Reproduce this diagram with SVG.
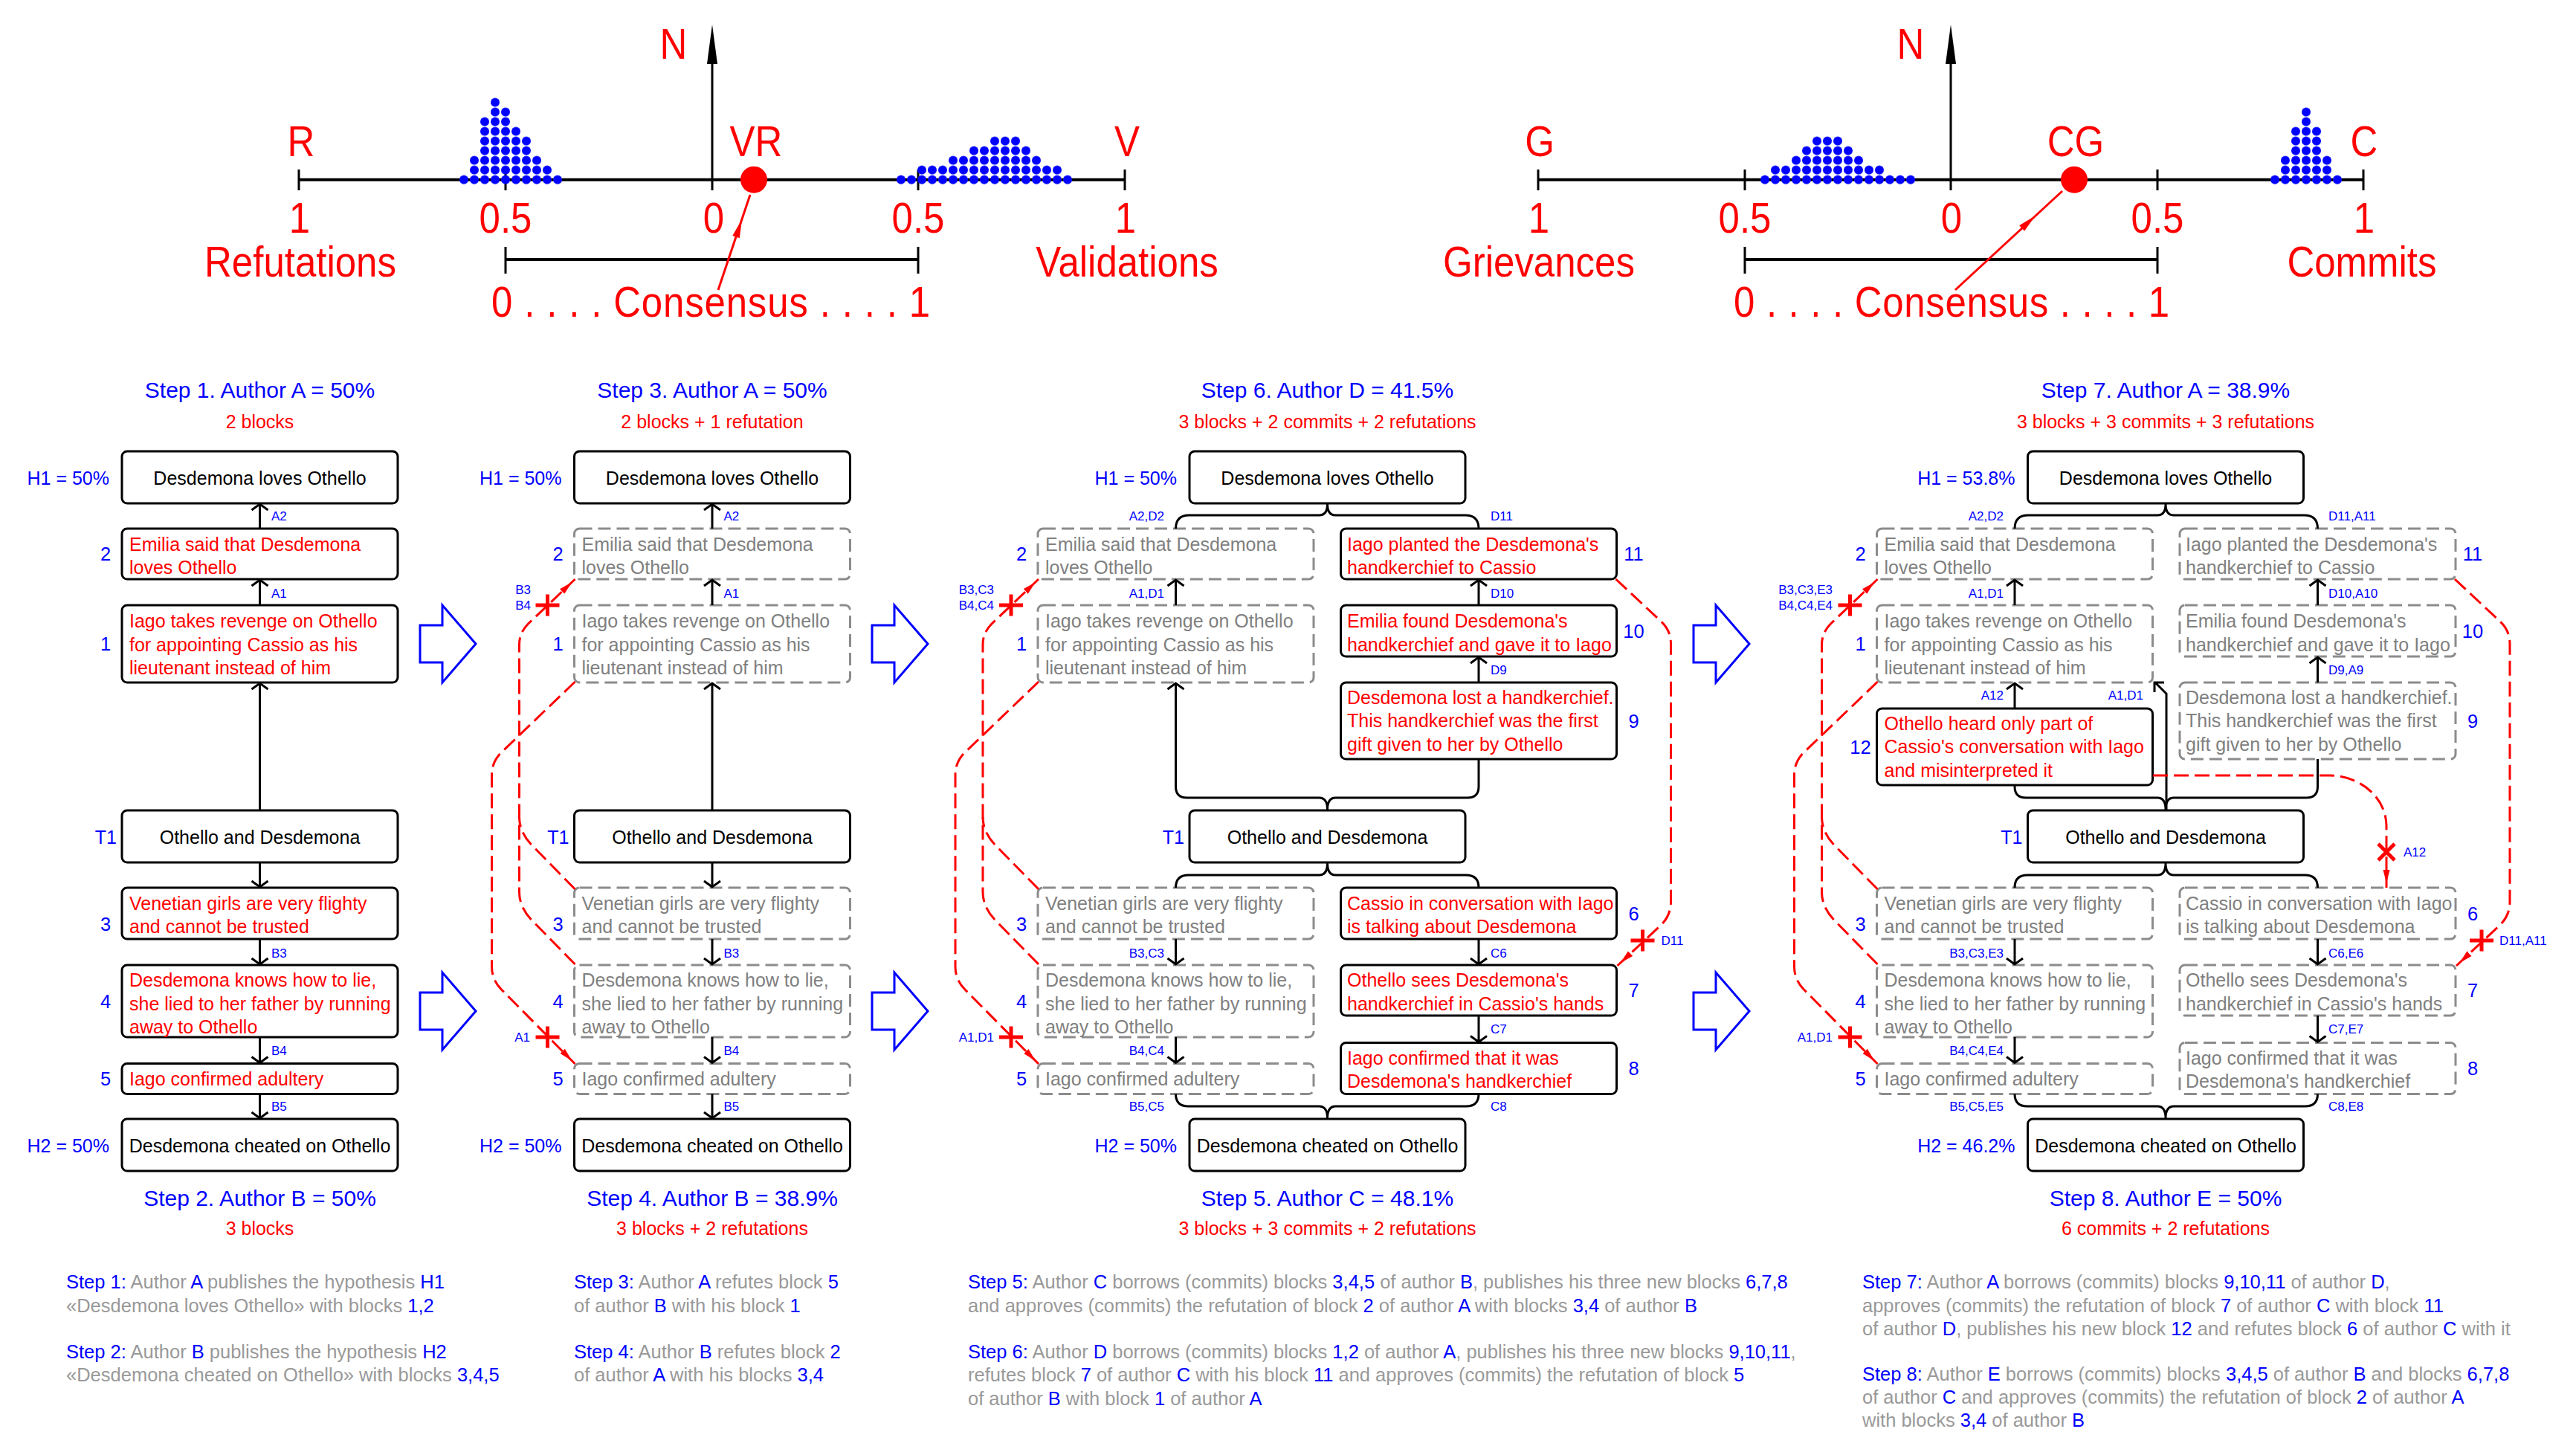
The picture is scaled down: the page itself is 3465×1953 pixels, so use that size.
<svg xmlns="http://www.w3.org/2000/svg" width="3465" height="1953" viewBox="0 0 3465 1953">
<defs>
<style>
text{font-family:"Liberation Sans",Arial,Helvetica,sans-serif}
.big{font-size:51px;fill:#f00;text-anchor:middle;transform-box:fill-box;transform-origin:50% 100%;transform:scaleY(1.12)}
.ax{stroke:#000;stroke-width:4;fill:none}
.tk{stroke:#000;stroke-width:3;fill:none}
.ra{stroke:#f00;stroke-width:3;fill:none}
.bx{fill:#fff;stroke:#000;stroke-width:3}
.gb{fill:#fff;stroke:#8c8c8c;stroke-width:3;stroke-dasharray:17 8}
.tr{font-size:25px;fill:#f00}
.tg{font-size:25px;fill:#808080}
.tb{font-size:25px;fill:#000;text-anchor:middle}
.lm{font-size:25.5px;fill:#00f;text-anchor:middle}
.le{font-size:25px;fill:#00f;text-anchor:end}
.sm{font-size:17px;fill:#00f}
.se{font-size:17px;fill:#00f;text-anchor:end}
.ttl{font-size:30px;fill:#00f;text-anchor:middle}
.sub{font-size:25px;fill:#f00;text-anchor:middle}
.cn{fill:none;stroke:#000;stroke-width:3}
.rf{fill:none;stroke:#f00;stroke-width:3;stroke-dasharray:20 8}
.rx{fill:none;stroke:#f00;stroke-width:5}
.ba{fill:#fff;stroke:#00f;stroke-width:3}
.desc{font-size:25.5px;fill:#999}
.b{fill:#00f}
.dt{fill:url(#dots)}
</style>
<pattern id="dots" patternUnits="userSpaceOnUse" x="1" y="1.2" width="14" height="13"><circle cx="7" cy="6.5" r="6" fill="#00f"/></pattern>
<marker id="rh" markerUnits="userSpaceOnUse" markerWidth="30" markerHeight="12" viewBox="0 0 30 12" refX="24" refY="6" orient="auto"><path d="M0,1.5L18,6L0,10.5z" fill="#f00"/></marker>
</defs>
<rect width="3465" height="1953" fill="#fff"/>

<g id="scale-left">
<path class="ax" d="M402,241.7H1513"/>
<path class="tk" d="M402,228V256M680,228V256M958,228V256M1235,228V256M1513,228V256M958,256V84"/>
<path d="M958,33L965,86L951,86z" fill="#000"/>
<rect class="dt" x="617" y="235.2" width="140" height="13"/>
<rect class="dt" x="631" y="222.2" width="112" height="13"/>
<rect class="dt" x="631" y="209.2" width="98" height="13"/>
<rect class="dt" x="645" y="196.2" width="70" height="13"/>
<rect class="dt" x="645" y="183.2" width="70" height="13"/>
<rect class="dt" x="645" y="170.2" width="56" height="13"/>
<rect class="dt" x="645" y="157.2" width="42" height="13"/>
<rect class="dt" x="659" y="144.2" width="28" height="13"/>
<rect class="dt" x="659" y="131.2" width="14" height="13"/>
<rect class="dt" x="1205" y="235.2" width="238" height="13"/>
<rect class="dt" x="1233" y="222.2" width="196" height="13"/>
<rect class="dt" x="1275" y="209.2" width="126" height="13"/>
<rect class="dt" x="1303" y="196.2" width="84" height="13"/>
<rect class="dt" x="1331" y="183.2" width="42" height="13"/>
<circle cx="1014" cy="241.7" r="18" fill="#f00"/>
<text class="big" x="405" y="211">R</text>
<text class="big" x="1017" y="211">VR</text>
<text class="big" x="1516" y="211">V</text>
<text class="big" x="906" y="80">N</text>
<text class="big" x="403" y="314">1</text>
<text class="big" x="680" y="314">0.5</text>
<text class="big" x="960" y="314">0</text>
<text class="big" x="1235" y="314">0.5</text>
<text class="big" x="1514" y="314">1</text>
<text class="big" x="404" y="373">Refutations</text>
<text class="big" x="1516" y="373">Validations</text>
<path class="ax" d="M680,349H1235"/>
<path class="tk" d="M680,332V368M1235,332V368"/>
<text class="big" x="956" y="427" textLength="590" lengthAdjust="spacing">0 . . . . Consensus . . . . 1</text>
<path class="ra" d="M966,390L1009,262"/>
<path d="M998,295L994.8,320.3L985.3,317.1z" fill="#f00"/>
</g>

<g id="scale-right">
<path class="ax" d="M2069,241.7H3179"/>
<path class="tk" d="M2069,228V256M2347,228V256M2624,228V256M2902,228V256M3179,228V256M2624,256V84"/>
<path d="M2624,33L2631,86L2617,86z" fill="#000"/>
<rect class="dt" x="2367" y="235.2" width="210" height="13"/>
<rect class="dt" x="2381" y="222.2" width="154" height="13"/>
<rect class="dt" x="2409" y="209.2" width="98" height="13"/>
<rect class="dt" x="2423" y="196.2" width="70" height="13"/>
<rect class="dt" x="2437" y="183.2" width="42" height="13"/>
<rect class="dt" x="3053" y="235.2" width="98" height="13"/>
<rect class="dt" x="3067" y="222.2" width="70" height="13"/>
<rect class="dt" x="3067" y="209.2" width="70" height="13"/>
<rect class="dt" x="3081" y="196.2" width="42" height="13"/>
<rect class="dt" x="3081" y="183.2" width="42" height="13"/>
<rect class="dt" x="3081" y="170.2" width="42" height="13"/>
<rect class="dt" x="3095" y="157.2" width="14" height="13"/>
<rect class="dt" x="3095" y="144.2" width="14" height="13"/>
<circle cx="2790" cy="241.7" r="18" fill="#f00"/>
<text class="big" x="2071" y="211">G</text>
<text class="big" x="2792" y="211">CG</text>
<text class="big" x="3180" y="211">C</text>
<text class="big" x="2570" y="80">N</text>
<text class="big" x="2070" y="314">1</text>
<text class="big" x="2347" y="314">0.5</text>
<text class="big" x="2625" y="314">0</text>
<text class="big" x="2902" y="314">0.5</text>
<text class="big" x="3180" y="314">1</text>
<text class="big" x="2070" y="373">Grievances</text>
<text class="big" x="3177" y="373">Commits</text>
<path class="ax" d="M2347,349H2902"/>
<path class="tk" d="M2347,332V368M2902,332V368"/>
<text class="big" x="2625" y="427" textLength="586" lengthAdjust="spacing">0 . . . . Consensus . . . . 1</text>
<path class="ra" d="M2630,390L2774,257"/>
<path d="M2738,290L2723,310.7L2716.2,303.3z" fill="#f00"/>
</g>

<g id="transitions">
<path class="ba" d="M565,841H595V814L640,866L595,918V891H565Z"/>
<path class="ba" d="M565,1335H595V1308L640,1360L595,1412V1385H565Z"/>
<path class="ba" d="M1173,841H1203V814L1248,866L1203,918V891H1173Z"/>
<path class="ba" d="M1173,1335H1203V1308L1248,1360L1203,1412V1385H1173Z"/>
<path class="ba" d="M2278,841H2308V814L2353,866L2308,918V891H2278Z"/>
<path class="ba" d="M2278,1335H2308V1308L2353,1360L2308,1412V1385H2278Z"/>
</g>

<!-- PANEL 1 -->
<g id="panel1">
<text class="ttl" x="349.5" y="535">Step 1. Author A = 50%</text>
<text class="sub" x="349.5" y="576">2 blocks</text>
<text class="ttl" x="349.5" y="1622">Step 2. Author B = 50%</text>
<text class="sub" x="349.5" y="1661">3 blocks</text>
<g id="p1-connectors">
<path class="cn" d="M349.5,711V678M338.5,686L349.5,678L360.5,686"/>
<path class="cn" d="M349.5,814V780M338.5,788L349.5,780L360.5,788"/>
<path class="cn" d="M349.5,1090V919M338.5,927L349.5,919L360.5,927"/>
<path class="cn" d="M349.5,1160V1193M338.5,1185L349.5,1193L360.5,1185"/>
<path class="cn" d="M349.5,1263V1297M338.5,1289L349.5,1297L360.5,1289"/>
<path class="cn" d="M349.5,1395V1429.5M338.5,1421.5L349.5,1429.5L360.5,1421.5"/>
<path class="cn" d="M349.5,1471.5V1504M338.5,1496L349.5,1504L360.5,1496"/>
<text class="sm" x="365" y="700">A2</text>
<text class="sm" x="365" y="803.5">A1</text>
<text class="sm" x="365" y="1288">B3</text>
<text class="sm" x="365" y="1419">B4</text>
<text class="sm" x="365" y="1494">B5</text>
</g>
<g id="p1-H1"><rect class="bx" x="164" y="607" width="371" height="70" rx="7"/><text class="tb" x="349.5" y="652">Desdemona loves Othello</text><text class="le" x="147" y="652">H1 = 50%</text></g>
<g id="p1-2"><rect class="bx" x="164" y="711" width="371" height="68" rx="7"/><text class="tr"><tspan x="174" y="740.5">Emilia said that Desdemona</tspan><tspan x="174" y="771.5">loves Othello</tspan></text><text class="lm" x="142" y="754">2</text></g>
<g id="p1-1"><rect class="bx" x="164" y="814" width="371" height="104" rx="7"/><text class="tr"><tspan x="174" y="844">Iago takes revenge on Othello</tspan><tspan x="174" y="875.5">for appointing Cassio as his</tspan><tspan x="174" y="907">lieutenant instead of him</tspan></text><text class="lm" x="142" y="875">1</text></g>
<g id="p1-T1"><rect class="bx" x="164" y="1090" width="371" height="70" rx="7"/><text class="tb" x="349.5" y="1135">Othello and Desdemona</text><text class="le" x="157" y="1135">T1</text></g>
<g id="p1-3"><rect class="bx" x="164" y="1194" width="371" height="69" rx="7"/><text class="tr"><tspan x="174" y="1223.5">Venetian girls are very flighty</tspan><tspan x="174" y="1255">and cannot be trusted</tspan></text><text class="lm" x="142" y="1252">3</text></g>
<g id="p1-4"><rect class="bx" x="164" y="1298" width="371" height="97" rx="7"/><text class="tr"><tspan x="174" y="1327">Desdemona knows how to lie,</tspan><tspan x="174" y="1358.5">she lied to her father by running</tspan><tspan x="174" y="1390">away to Othello</tspan></text><text class="lm" x="142" y="1355.5">4</text></g>
<g id="p1-5"><rect class="bx" x="164" y="1430.5" width="371" height="41" rx="7"/><text class="tr" x="174" y="1459.5">Iago confirmed adultery</text><text class="lm" x="142" y="1460">5</text></g>
<g id="p1-H2"><rect class="bx" x="164" y="1505" width="371" height="70" rx="7"/><text class="tb" x="349.5" y="1550">Desdemona cheated on Othello</text><text class="le" x="147" y="1550">H2 = 50%</text></g>
</g>

<!-- PANEL 2 -->
<g id="panel2">
<text class="ttl" x="958" y="535">Step 3. Author A = 50%</text>
<text class="sub" x="958" y="576">2 blocks + 1 refutation</text>
<text class="ttl" x="958" y="1622">Step 4. Author B = 38.9%</text>
<text class="sub" x="958" y="1661">3 blocks + 2 refutations</text>
<g id="p2-H1"><rect class="bx" x="772.5" y="607" width="371" height="70" rx="7"/><text class="tb" x="958" y="652">Desdemona loves Othello</text><text class="le" x="755.5" y="652">H1 = 50%</text></g>
<g id="p2-2"><rect class="gb" x="772.5" y="711" width="371" height="68" rx="7"/><text class="tg"><tspan x="782.5" y="740.5">Emilia said that Desdemona</tspan><tspan x="782.5" y="771.5">loves Othello</tspan></text><text class="lm" x="750.5" y="754">2</text></g>
<g id="p2-1"><rect class="gb" x="772.5" y="814" width="371" height="104" rx="7"/><text class="tg"><tspan x="782.5" y="844">Iago takes revenge on Othello</tspan><tspan x="782.5" y="875.5">for appointing Cassio as his</tspan><tspan x="782.5" y="907">lieutenant instead of him</tspan></text><text class="lm" x="750.5" y="875">1</text></g>
<g id="p2-T1"><rect class="bx" x="772.5" y="1090" width="371" height="70" rx="7"/><text class="tb" x="958" y="1135">Othello and Desdemona</text><text class="le" x="765.5" y="1135">T1</text></g>
<g id="p2-3"><rect class="gb" x="772.5" y="1194" width="371" height="69" rx="7"/><text class="tg"><tspan x="782.5" y="1223.5">Venetian girls are very flighty</tspan><tspan x="782.5" y="1255">and cannot be trusted</tspan></text><text class="lm" x="750.5" y="1252">3</text></g>
<g id="p2-4"><rect class="gb" x="772.5" y="1298" width="371" height="97" rx="7"/><text class="tg"><tspan x="782.5" y="1327">Desdemona knows how to lie,</tspan><tspan x="782.5" y="1358.5">she lied to her father by running</tspan><tspan x="782.5" y="1390">away to Othello</tspan></text><text class="lm" x="750.5" y="1355.5">4</text></g>
<g id="p2-5"><rect class="gb" x="772.5" y="1430.5" width="371" height="41" rx="7"/><text class="tg" x="782.5" y="1459.5">Iago confirmed adultery</text><text class="lm" x="750.5" y="1460">5</text></g>
<g id="p2-H2"><rect class="bx" x="772.5" y="1505" width="371" height="70" rx="7"/><text class="tb" x="958" y="1550">Desdemona cheated on Othello</text><text class="le" x="755.5" y="1550">H2 = 50%</text></g>
<g id="p2-connectors">
<path class="cn" d="M958,711V678M947,686L958,678L969,686"/>
<path class="cn" d="M958,814V780M947,788L958,780L969,788"/>
<path class="cn" d="M958,1090V919M947,927L958,919L969,927"/>
<path class="cn" d="M958,1160V1193M947,1185L958,1193L969,1185"/>
<path class="cn" d="M958,1263V1297M947,1289L958,1297L969,1289"/>
<path class="cn" d="M958,1395V1429.5M947,1421.5L958,1429.5L969,1421.5"/>
<path class="cn" d="M958,1471.5V1504M947,1496L958,1504L969,1496"/>
<text class="sm" x="973.5" y="700">A2</text>
<text class="sm" x="973.5" y="803.5">A1</text>
<text class="sm" x="973.5" y="1288">B3</text>
<text class="sm" x="973.5" y="1419">B4</text>
<text class="sm" x="973.5" y="1494">B5</text>
<path class="rf" d="M773.5,1196L716.5,1138Q698.5,1120 698.5,1099"/>
<path class="rf" marker-end="url(#rh)" d="M773.5,1297L716.5,1239Q698.5,1221 698.5,1200V867Q698.5,851 710.5,839L773.5,779"/>
<path class="rf" marker-end="url(#rh)" d="M773.5,917L675.5,1011Q661.5,1024 661.5,1042V1300Q661.5,1318 674.5,1331L773.5,1431"/>
<path class="rx" d="M720.5,814H752.5M736.5,799.5V828.5M720.5,1395H752.5M736.5,1380.5V1409.5"/>
<text class="se" x="714" y="799">B3</text>
<text class="se" x="714" y="820">B4</text>
<text class="se" x="713" y="1401">A1</text>
</g>
</g>

<!-- PANEL 3 -->
<g id="panel3">
<text class="ttl" x="1785.5" y="535">Step 6. Author D = 41.5%</text>
<text class="sub" x="1785.5" y="576">3 blocks + 2 commits + 2 refutations</text>
<text class="ttl" x="1785.5" y="1622">Step 5. Author C = 48.1%</text>
<text class="sub" x="1785.5" y="1661">3 blocks + 3 commits + 2 refutations</text>
<g id="p3-H1"><rect class="bx" x="1600" y="607" width="371" height="70" rx="7"/><text class="tb" x="1785.5" y="652">Desdemona loves Othello</text><text class="le" x="1583" y="652">H1 = 50%</text></g>
<g id="p3-2"><rect class="gb" x="1396" y="711" width="371" height="68" rx="7"/><text class="tg"><tspan x="1406" y="740.5">Emilia said that Desdemona</tspan><tspan x="1406" y="771.5">loves Othello</tspan></text><text class="lm" x="1374" y="754">2</text></g>
<g id="p3-1"><rect class="gb" x="1396" y="814" width="371" height="104" rx="7"/><text class="tg"><tspan x="1406" y="844">Iago takes revenge on Othello</tspan><tspan x="1406" y="875.5">for appointing Cassio as his</tspan><tspan x="1406" y="907">lieutenant instead of him</tspan></text><text class="lm" x="1374" y="875">1</text></g>
<g id="p3-11"><rect class="bx" x="1803.5" y="711" width="371" height="68" rx="7"/><text class="tr"><tspan x="1812" y="740.5">Iago planted the Desdemona's</tspan><tspan x="1812" y="771.5">handkerchief to Cassio</tspan></text><text class="lm" x="2197.5" y="754">11</text></g>
<g id="p3-10"><rect class="bx" x="1803.5" y="814" width="371" height="69" rx="7"/><text class="tr"><tspan x="1812" y="844">Emilia found Desdemona's</tspan><tspan x="1812" y="875.5">handkerchief and gave it to Iago</tspan></text><text class="lm" x="2197.5" y="857.5">10</text></g>
<g id="p3-9"><rect class="bx" x="1803.5" y="918" width="371" height="103" rx="7"/><text class="tr"><tspan x="1812" y="946.5">Desdemona lost a handkerchief.</tspan><tspan x="1812" y="978">This handkerchief was the first</tspan><tspan x="1812" y="1009.5">gift given to her by Othello</tspan></text><text class="lm" x="2197.5" y="978.5">9</text></g>
<g id="p3-T1"><rect class="bx" x="1600" y="1090" width="371" height="70" rx="7"/><text class="tb" x="1785.5" y="1135">Othello and Desdemona</text><text class="le" x="1593" y="1135">T1</text></g>
<g id="p3-3"><rect class="gb" x="1396" y="1194" width="371" height="69" rx="7"/><text class="tg"><tspan x="1406" y="1223.5">Venetian girls are very flighty</tspan><tspan x="1406" y="1255">and cannot be trusted</tspan></text><text class="lm" x="1374" y="1252">3</text></g>
<g id="p3-4"><rect class="gb" x="1396" y="1298" width="371" height="97" rx="7"/><text class="tg"><tspan x="1406" y="1327">Desdemona knows how to lie,</tspan><tspan x="1406" y="1358.5">she lied to her father by running</tspan><tspan x="1406" y="1390">away to Othello</tspan></text><text class="lm" x="1374" y="1355.5">4</text></g>
<g id="p3-5"><rect class="gb" x="1396" y="1430.5" width="371" height="41" rx="7"/><text class="tg" x="1406" y="1459.5">Iago confirmed adultery</text><text class="lm" x="1374" y="1460">5</text></g>
<g id="p3-6"><rect class="bx" x="1803.5" y="1194" width="371" height="69" rx="7"/><text class="tr"><tspan x="1812" y="1223.5">Cassio in conversation with Iago</tspan><tspan x="1812" y="1255">is talking about Desdemona</tspan></text><text class="lm" x="2197.5" y="1237.5">6</text></g>
<g id="p3-7"><rect class="bx" x="1803.5" y="1298" width="371" height="68" rx="7"/><text class="tr"><tspan x="1812" y="1327">Othello sees Desdemona's</tspan><tspan x="1812" y="1358.5">handkerchief in Cassio's hands</tspan></text><text class="lm" x="2197.5" y="1341">7</text></g>
<g id="p3-8"><rect class="bx" x="1803.5" y="1402.5" width="371" height="69" rx="7"/><text class="tr"><tspan x="1812" y="1431.5">Iago confirmed that it was</tspan><tspan x="1812" y="1463">Desdemona's handkerchief</tspan></text><text class="lm" x="2197.5" y="1446">8</text></g>
<g id="p3-H2"><rect class="bx" x="1600" y="1505" width="371" height="70" rx="7"/><text class="tb" x="1785.5" y="1550">Desdemona cheated on Othello</text><text class="le" x="1583" y="1550">H2 = 50%</text></g>
<g id="p3-connectors">
<path class="cn" d="M1581.5,711Q1581.5,693 1599.5,693H1774.5Q1785.5,693 1785.5,678Q1785.5,693 1796.5,693H1971Q1989,693 1989,711"/>
<path class="cn" d="M1581.5,814V780M1570.5,788L1581.5,780L1592.5,788"/>
<path class="cn" d="M1989,814V780M1978,788L1989,780L2000,788"/>
<path class="cn" d="M1989,918V884M1978,892L1989,884L2000,892"/>
<path class="cn" d="M1581.5,919V1058Q1581.5,1073 1596.5,1073H1774.5Q1785.5,1073 1785.5,1089Q1785.5,1073 1796.5,1073H1974Q1989,1073 1989,1058V1021M1570.5,927L1581.5,919L1592.5,927"/>
<path class="cn" d="M1581.5,1194Q1581.5,1177 1598.5,1177H1774.5Q1785.5,1177 1785.5,1161Q1785.5,1177 1796.5,1177H1972Q1989,1177 1989,1194"/>
<path class="cn" d="M1581.5,1263V1297M1570.5,1289L1581.5,1297L1592.5,1289"/>
<path class="cn" d="M1581.5,1395V1429.5M1570.5,1421.5L1581.5,1429.5L1592.5,1421.5"/>
<path class="cn" d="M1989,1263V1297M1978,1289L1989,1297L2000,1289"/>
<path class="cn" d="M1989,1366V1401.5M1978,1393.5L1989,1401.5L2000,1393.5"/>
<path class="cn" d="M1581.5,1471.5Q1581.5,1488 1598.5,1488H1774.5Q1785.5,1488 1785.5,1504Q1785.5,1488 1796.5,1488H1972Q1989,1488 1989,1471.5"/>
<text class="se" x="1566" y="700">A2,D2</text>
<text class="sm" x="2005" y="700">D11</text>
<text class="se" x="1566" y="803.5">A1,D1</text>
<text class="sm" x="2005" y="803.5">D10</text>
<text class="sm" x="2005" y="907">D9</text>
<text class="se" x="1566" y="1288">B3,C3</text>
<text class="sm" x="2005" y="1288">C6</text>
<text class="sm" x="2005" y="1390">C7</text>
<text class="se" x="1566" y="1419">B4,C4</text>
<text class="se" x="1566" y="1494">B5,C5</text>
<text class="sm" x="2005" y="1494">C8</text>
<path class="rf" d="M1397,1196L1340,1138Q1322,1120 1322,1099"/>
<path class="rf" marker-end="url(#rh)" d="M1397,1297L1340,1239Q1322,1221 1322,1200V867Q1322,851 1334,839L1397,779"/>
<path class="rf" marker-end="url(#rh)" d="M1397,917L1299,1011Q1285,1024 1285,1042V1300Q1285,1318 1298,1331L1397,1431"/>
<path class="rf" marker-end="url(#rh)" d="M2173.5,779L2234.5,836Q2247.5,848 2247.5,866V1213Q2247.5,1231 2234.5,1244L2175.5,1299"/>
<path class="rx" d="M1344,814H1376M1360,799.5V828.5M1344,1395H1376M1360,1380.5V1409.5M2193.5,1265H2225.5M2209.5,1250.5V1279.5"/>
<text class="se" x="1337" y="799">B3,C3</text>
<text class="se" x="1337" y="820">B4,C4</text>
<text class="se" x="1337" y="1401">A1,D1</text>
<text class="sm" x="2234.5" y="1271">D11</text>
</g>
</g>

<!-- PANEL 4 -->
<g id="panel4">
<text class="ttl" x="2913" y="535">Step 7. Author A = 38.9%</text>
<text class="sub" x="2913" y="576">3 blocks + 3 commits + 3 refutations</text>
<text class="ttl" x="2913" y="1622">Step 8. Author E = 50%</text>
<text class="sub" x="2913" y="1661">6 commits + 2 refutations</text>
<g id="p4-H1"><rect class="bx" x="2727.5" y="607" width="371" height="70" rx="7"/><text class="tb" x="2913" y="652">Desdemona loves Othello</text><text class="le" x="2710.5" y="652">H1 = 53.8%</text></g>
<g id="p4-2"><rect class="gb" x="2524.5" y="711" width="371" height="68" rx="7"/><text class="tg"><tspan x="2534.5" y="740.5">Emilia said that Desdemona</tspan><tspan x="2534.5" y="771.5">loves Othello</tspan></text><text class="lm" x="2502.5" y="754">2</text></g>
<g id="p4-1"><rect class="gb" x="2524.5" y="814" width="371" height="104" rx="7"/><text class="tg"><tspan x="2534.5" y="844">Iago takes revenge on Othello</tspan><tspan x="2534.5" y="875.5">for appointing Cassio as his</tspan><tspan x="2534.5" y="907">lieutenant instead of him</tspan></text><text class="lm" x="2502.5" y="875">1</text></g>
<g id="p4-12"><rect class="bx" x="2524.5" y="953" width="371" height="103" rx="7"/><text class="tr"><tspan x="2534.5" y="981.5">Othello heard only part of</tspan><tspan x="2534.5" y="1013">Cassio's conversation with Iago</tspan><tspan x="2534.5" y="1044.5">and misinterpreted it</tspan></text><text class="lm" x="2502.5" y="1013.5">12</text></g>
<g id="p4-11"><rect class="gb" x="2932" y="711" width="371" height="68" rx="7"/><text class="tg"><tspan x="2940" y="740.5">Iago planted the Desdemona's</tspan><tspan x="2940" y="771.5">handkerchief to Cassio</tspan></text><text class="lm" x="3326" y="754">11</text></g>
<g id="p4-10"><rect class="gb" x="2932" y="814" width="371" height="69" rx="7"/><text class="tg"><tspan x="2940" y="844">Emilia found Desdemona's</tspan><tspan x="2940" y="875.5">handkerchief and gave it to Iago</tspan></text><text class="lm" x="3326" y="857.5">10</text></g>
<g id="p4-9"><rect class="gb" x="2932" y="918" width="371" height="103" rx="7"/><text class="tg"><tspan x="2940" y="946.5">Desdemona lost a handkerchief.</tspan><tspan x="2940" y="978">This handkerchief was the first</tspan><tspan x="2940" y="1009.5">gift given to her by Othello</tspan></text><text class="lm" x="3326" y="978.5">9</text></g>
<g id="p4-T1"><rect class="bx" x="2727.5" y="1090" width="371" height="70" rx="7"/><text class="tb" x="2913" y="1135">Othello and Desdemona</text><text class="le" x="2720.5" y="1135">T1</text></g>
<g id="p4-3"><rect class="gb" x="2524.5" y="1194" width="371" height="69" rx="7"/><text class="tg"><tspan x="2534.5" y="1223.5">Venetian girls are very flighty</tspan><tspan x="2534.5" y="1255">and cannot be trusted</tspan></text><text class="lm" x="2502.5" y="1252">3</text></g>
<g id="p4-4"><rect class="gb" x="2524.5" y="1298" width="371" height="97" rx="7"/><text class="tg"><tspan x="2534.5" y="1327">Desdemona knows how to lie,</tspan><tspan x="2534.5" y="1358.5">she lied to her father by running</tspan><tspan x="2534.5" y="1390">away to Othello</tspan></text><text class="lm" x="2502.5" y="1355.5">4</text></g>
<g id="p4-5"><rect class="gb" x="2524.5" y="1430.5" width="371" height="41" rx="7"/><text class="tg" x="2534.5" y="1459.5">Iago confirmed adultery</text><text class="lm" x="2502.5" y="1460">5</text></g>
<g id="p4-6"><rect class="gb" x="2932" y="1194" width="371" height="69" rx="7"/><text class="tg"><tspan x="2940" y="1223.5">Cassio in conversation with Iago</tspan><tspan x="2940" y="1255">is talking about Desdemona</tspan></text><text class="lm" x="3326" y="1237.5">6</text></g>
<g id="p4-7"><rect class="gb" x="2932" y="1298" width="371" height="68" rx="7"/><text class="tg"><tspan x="2940" y="1327">Othello sees Desdemona's</tspan><tspan x="2940" y="1358.5">handkerchief in Cassio's hands</tspan></text><text class="lm" x="3326" y="1341">7</text></g>
<g id="p4-8"><rect class="gb" x="2932" y="1402.5" width="371" height="69" rx="7"/><text class="tg"><tspan x="2940" y="1431.5">Iago confirmed that it was</tspan><tspan x="2940" y="1463">Desdemona's handkerchief</tspan></text><text class="lm" x="3326" y="1446">8</text></g>
<g id="p4-H2"><rect class="bx" x="2727.5" y="1505" width="371" height="70" rx="7"/><text class="tb" x="2913" y="1550">Desdemona cheated on Othello</text><text class="le" x="2710.5" y="1550">H2 = 46.2%</text></g>
<g id="p4-connectors">
<path class="cn" d="M2710,711Q2710,693 2728,693H2902Q2913,693 2913,678Q2913,693 2924,693H3099.5Q3117.5,693 3117.5,711"/>
<path class="cn" d="M2710,814V780M2699,788L2710,780L2721,788"/>
<path class="cn" d="M2710,953V919M2699,927L2710,919L2721,927"/>
<path class="cn" d="M3117.5,814V780M3106.5,788L3117.5,780L3128.5,788"/>
<path class="cn" d="M3117.5,918V884M3106.5,892L3117.5,884L3128.5,892"/>
<path class="cn" d="M2710,1056V1058Q2710,1073 2725,1073H2902Q2913,1073 2913,1089Q2913,1073 2924,1073H3102.5Q3117.5,1073 3117.5,1058V1021"/>
<path class="cn" d="M2914,1089V933L2899,918M2911,918H2898V931"/>
<path class="cn" d="M2710,1194Q2710,1177 2727,1177H2902Q2913,1177 2913,1161Q2913,1177 2924,1177H3100.5Q3117.5,1177 3117.5,1194"/>
<path class="cn" d="M2710,1263V1297M2699,1289L2710,1297L2721,1289"/>
<path class="cn" d="M2710,1395V1429.5M2699,1421.5L2710,1429.5L2721,1421.5"/>
<path class="cn" d="M3117.5,1263V1297M3106.5,1289L3117.5,1297L3128.5,1289"/>
<path class="cn" d="M3117.5,1366V1401.5M3106.5,1393.5L3117.5,1401.5L3128.5,1393.5"/>
<path class="cn" d="M2710,1471.5Q2710,1488 2727,1488H2902Q2913,1488 2913,1504Q2913,1488 2924,1488H3100.5Q3117.5,1488 3117.5,1471.5"/>
<text class="se" x="2695" y="700">A2,D2</text>
<text class="sm" x="3132" y="700">D11,A11</text>
<text class="se" x="2695" y="803.5">A1,D1</text>
<text class="sm" x="3132" y="803.5">D10,A10</text>
<text class="sm" x="3132" y="907">D9,A9</text>
<text class="se" x="2695" y="941">A12</text>
<text class="se" x="2883" y="941">A1,D1</text>
<text class="se" x="2695" y="1288">B3,C3,E3</text>
<text class="sm" x="3132" y="1288">C6,E6</text>
<text class="sm" x="3132" y="1390">C7,E7</text>
<text class="se" x="2695" y="1419">B4,C4,E4</text>
<text class="se" x="2695" y="1494">B5,C5,E5</text>
<text class="sm" x="3132" y="1494">C8,E8</text>
<path class="rf" d="M2525.5,1196L2468.5,1138Q2450.5,1120 2450.5,1099"/>
<path class="rf" marker-end="url(#rh)" d="M2525.5,1297L2468.5,1239Q2450.5,1221 2450.5,1200V867Q2450.5,851 2462.5,839L2525.5,779"/>
<path class="rf" marker-end="url(#rh)" d="M2525.5,917L2427.5,1011Q2413.5,1024 2413.5,1042V1300Q2413.5,1318 2426.5,1331L2525.5,1431"/>
<path class="rf" marker-end="url(#rh)" d="M3302,779L3363,836Q3376,848 3376,866V1213Q3376,1231 3363,1244L3304,1299"/>
<path class="rf" marker-end="url(#rh)" d="M2896,1043H3133A77 68 0 0 1 3210,1111V1194"/>
<path class="rx" d="M2472.5,814H2504.5M2488.5,799.5V828.5M2472.5,1395H2504.5M2488.5,1380.5V1409.5M3322,1265H3354M3338,1250.5V1279.5M3199,1135L3221,1157M3221,1135L3199,1157"/>
<text class="se" x="2465" y="799">B3,C3,E3</text>
<text class="se" x="2465" y="820">B4,C4,E4</text>
<text class="se" x="2465" y="1401">A1,D1</text>
<text class="sm" x="3362" y="1271">D11,A11</text>
<text class="sm" x="3233" y="1152">A12</text>
</g>
</g>

<g id="descriptions">
<text class="desc" x="89" y="1733"><tspan class="b">Step 1:</tspan> Author <tspan class="b">A</tspan> publishes the hypothesis <tspan class="b">H1</tspan></text>
<text class="desc" x="89" y="1765">«Desdemona loves Othello» with blocks <tspan class="b">1,2</tspan></text>
<text class="desc" x="89" y="1827"><tspan class="b">Step 2:</tspan> Author <tspan class="b">B</tspan> publishes the hypothesis <tspan class="b">H2</tspan></text>
<text class="desc" x="89" y="1858">«Desdemona cheated on Othello» with blocks <tspan class="b">3,4,5</tspan></text>
<text class="desc" x="772" y="1733"><tspan class="b">Step 3:</tspan> Author <tspan class="b">A</tspan> refutes block <tspan class="b">5</tspan></text>
<text class="desc" x="772" y="1765">of author <tspan class="b">B</tspan> with his block <tspan class="b">1</tspan></text>
<text class="desc" x="772" y="1827"><tspan class="b">Step 4:</tspan> Author <tspan class="b">B</tspan> refutes block <tspan class="b">2</tspan></text>
<text class="desc" x="772" y="1858">of author <tspan class="b">A</tspan> with his blocks <tspan class="b">3,4</tspan></text>
<text class="desc" x="1302" y="1733"><tspan class="b">Step 5:</tspan> Author <tspan class="b">C</tspan> borrows (commits) blocks <tspan class="b">3,4,5</tspan> of author <tspan class="b">B</tspan>, publishes his three new blocks <tspan class="b">6,7,8</tspan></text>
<text class="desc" x="1302" y="1765">and approves (commits) the refutation of block <tspan class="b">2</tspan> of author <tspan class="b">A</tspan> with blocks <tspan class="b">3,4</tspan> of author <tspan class="b">B</tspan></text>
<text class="desc" x="1302" y="1827"><tspan class="b">Step 6:</tspan> Author <tspan class="b">D</tspan> borrows (commits) blocks <tspan class="b">1,2</tspan> of author <tspan class="b">A</tspan>, publishes his three new blocks <tspan class="b">9,10,11</tspan>,</text>
<text class="desc" x="1302" y="1858">refutes block <tspan class="b">7</tspan> of author <tspan class="b">C</tspan> with his block <tspan class="b">11</tspan> and approves (commits) the refutation of block <tspan class="b">5</tspan></text>
<text class="desc" x="1302" y="1890">of author <tspan class="b">B</tspan> with block <tspan class="b">1</tspan> of author <tspan class="b">A</tspan></text>
<text class="desc" x="2505" y="1733"><tspan class="b">Step 7:</tspan> Author <tspan class="b">A</tspan> borrows (commits) blocks <tspan class="b">9,10,11</tspan> of author <tspan class="b">D</tspan>,</text>
<text class="desc" x="2505" y="1765">approves (commits) the refutation of block <tspan class="b">7</tspan> of author <tspan class="b">C</tspan> with block <tspan class="b">11</tspan></text>
<text class="desc" x="2505" y="1796">of author <tspan class="b">D</tspan>, publishes his new block <tspan class="b">12</tspan> and refutes block <tspan class="b">6</tspan> of author <tspan class="b">C</tspan> with it</text>
<text class="desc" x="2505" y="1857"><tspan class="b">Step 8:</tspan> Author <tspan class="b">E</tspan> borrows (commits) blocks <tspan class="b">3,4,5</tspan> of author <tspan class="b">B</tspan> and blocks <tspan class="b">6,7,8</tspan></text>
<text class="desc" x="2505" y="1888">of author <tspan class="b">C</tspan> and approves (commits) the refutation of block <tspan class="b">2</tspan> of author <tspan class="b">A</tspan></text>
<text class="desc" x="2505" y="1919">with blocks <tspan class="b">3,4</tspan> of author <tspan class="b">B</tspan></text>
</g>
</svg>
